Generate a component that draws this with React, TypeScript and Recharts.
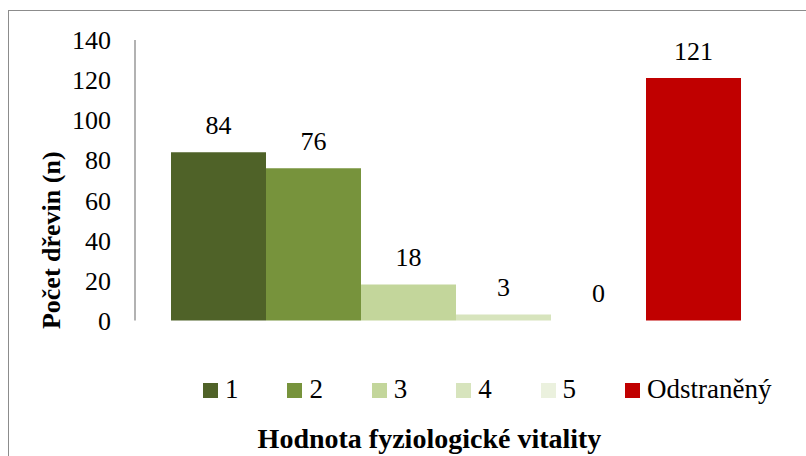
import React from 'react';
import { BarChart, Bar, XAxis, YAxis, LabelList, Label } from 'recharts';

const seriesNames = ['1', '2', '3', '4', '5', 'Odstraněný'];
const treeCounts = [84, 76, 18, 3, 0, 121];
const seriesColors = ['#4f6228', '#77933c', '#c3d69b', '#d7e4bd', '#ebf1de', '#c00000'];
const yTicks = [0, 20, 40, 60, 80, 100, 120, 140];

const row: Record<string, string | number> = { name: 'vitalita' };
seriesNames.forEach((s, i) => {
  row['s' + i] = treeCounts[i];
});
const chartData = [row];

const FONT = '"Times New Roman", "Liberation Serif", serif';

const YTitle = (props: any) => {
  const { viewBox } = props;
  const cx = viewBox.x + 51;
  const cy = viewBox.y + viewBox.height / 2 + 60;
  return (
    <text
      x={cx}
      y={cy}
      transform={`rotate(-90, ${cx}, ${cy})`}
      textAnchor="middle"
      dominantBaseline="central"
      style={{ fontFamily: FONT, fontWeight: 'bold', fontSize: 26 }}
      fill="#000"
    >
      Počet dřevin (n)
    </text>
  );
};

const App = () => {
  return (
    <div style={{ position: 'relative', width: 806, height: 456, overflow: 'hidden', background: '#fff', fontFamily: FONT }}>
      <style>{`body{margin:0;overflow:hidden} .recharts-text, .recharts-label{font-family:"Times New Roman","Liberation Serif",serif !important}`}</style>
      <div
        style={{
          position: 'absolute',
          left: 8,
          top: 10,
          width: 820,
          height: 470,
          border: '1px solid #8c8c8c',
        }}
      />
      <div style={{ position: 'absolute', left: 0, top: 0 }}>
        <BarChart
          width={806}
          height={456}
          data={chartData}
          margin={{ top: 40, right: 31, left: 0, bottom: 135.5 }}
          barCategoryGap={36}
          barGap={0}
          style={{ fontFamily: FONT }}
        >
          <XAxis dataKey="name" hide />
          <YAxis
            domain={[0, 140]}
            ticks={yTicks}
            width={135}
            tickLine={false}
            tickSize={0}
            tickMargin={24}
            axisLine={{ stroke: '#999999', strokeWidth: 1.5 }}
            tick={{ fill: '#000', fontSize: 26, fontFamily: FONT }}
            interval={0}
          >
            <Label content={<YTitle />} />
          </YAxis>
          <YAxis
            yAxisId="right"
            orientation="right"
            domain={[0, 140]}
            width={0}
            tick={false}
            tickLine={false}
            axisLine={{ stroke: '#999999', strokeWidth: 1.5 }}
          />
          {seriesNames.map((s, i) => (
            <Bar
              key={s}
              dataKey={'s' + i}
              name={s}
              fill={seriesColors[i]}
              minPointSize={0.01}
              isAnimationActive={false}
            >
              <LabelList
                dataKey={'s' + i}
                position="top"
                offset={18}
                fill="#000"
                fontSize={26}
                fontFamily={FONT}
              />
            </Bar>
          ))}
        </BarChart>
      </div>
      <div
        style={{
          position: 'absolute',
          left: 203,
          top: 374,
          display: 'flex',
          fontFamily: FONT,
          fontSize: 27,
          lineHeight: '30px',
          color: '#000',
          whiteSpace: 'nowrap',
        }}
      >
        {seriesNames.map((s, i) => (
          <div key={s} style={{ width: 84.4 }}>
            <span
              style={{
                display: 'inline-block',
                width: 15,
                height: 15,
                background: seriesColors[i],
                marginRight: 7,
              }}
            />
            {s}
          </div>
        ))}
      </div>
      <div
        style={{
          position: 'absolute',
          left: 0,
          width: 859,
          top: 423,
          textAlign: 'center',
          fontFamily: FONT,
          fontWeight: 'bold',
          fontSize: 28,
          lineHeight: '31px',
          color: '#000',
          whiteSpace: 'nowrap',
        }}
      >
        Hodnota fyziologické vitality
      </div>
    </div>
  );
};

export default App;
